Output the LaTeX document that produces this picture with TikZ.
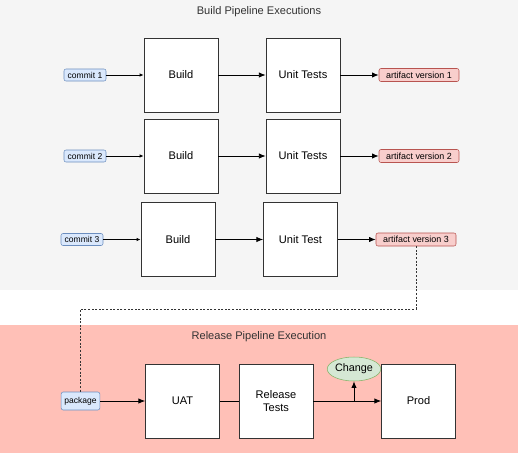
\documentclass[tikz,border=0pt]{standalone}
\usepackage{fontspec}
\setmainfont{Liberation Sans}
\usepackage{tikz}
\usetikzlibrary{calc,shapes.geometric,arrows.meta}
\definecolor{panelgrey}{HTML}{F5F5F5}
\definecolor{panelpink}{HTML}{FFC0B7}
\definecolor{commitfill}{HTML}{DAE8FC}
\definecolor{commitline}{HTML}{6C8EBF}
\definecolor{artfill}{HTML}{F8CECC}
\definecolor{artline}{HTML}{B85450}
\definecolor{chgfill}{HTML}{D5E8D4}
\definecolor{chgline}{HTML}{82B366}
\definecolor{titlegrey}{HTML}{333333}

\begin{document}
\begin{tikzpicture}[x=0.75pt,y=0.75pt,yscale=-1,xscale=1,
    stage/.style={draw=black!80,fill=white,line width=0.6pt,minimum width=55.5pt,minimum height=55.5pt,align=center,font=\fontsize{8.3}{9.5}\selectfont},
    commitbox/.style={draw=commitline,fill=commitfill,rounded corners=1.5pt,minimum width=31.5pt,minimum height=9pt,inner sep=0pt,font=\fontsize{6.4}{7}\selectfont},
    artbox/.style={draw=artline,fill=artfill,rounded corners=1.5pt,minimum width=60pt,minimum height=9.75pt,inner sep=0pt,font=\fontsize{6.7}{7}\selectfont},
    flow/.style={-{Latex[length=5pt,width=4pt]},line width=0.6pt},
    smallflow/.style={-{Latex[length=3pt,width=2.6pt]},line width=0.6pt},
    paneltitle/.style={text=titlegrey,font=\fontsize{8.3}{9.5}\selectfont}]
        \useasboundingbox (0,0) rectangle (518,454);

        %Shape: Rectangle [id:build panel]
        \fill[panelgrey] (0,0) rectangle (518,290);
        %Shape: Rectangle [id:release panel]
        \fill[panelpink] (0,325) rectangle (518,453);

        % Text Node
        \node[paneltitle] (buildtitle) at (259,12) {Build Pipeline Executions};
        % Text Node
        \node[paneltitle] (reltitle) at (259,337) {Release Pipeline Execution};

        % Build rows
        \node[commitbox] (commit1) at (85,75) {commit 1};
        \node[stage] (build1) at (181,75) {Build};
        \node[stage] (unit1) at (303,75) {Unit Tests};
        \node[artbox] (art1) at (419,75) {artifact version 1};

        \node[commitbox] (commit2) at (85,156) {commit 2};
        \node[stage] (build2) at (181,156) {Build};
        \node[stage] (unit2) at (303,156) {Unit Tests};
        \node[artbox] (art2) at (419,156) {artifact version 2};

        \node[commitbox] (commit3) at (82,239.5) {commit 3};
        \node[stage] (build3) at (178,239.5) {Build};
        \node[stage] (unit3) at (300.5,239.5) {Unit Test};
        \node[artbox] (art3) at (416,239.5) {artifact version 3};

        \foreach \r in {1,2,3}{
            \draw[smallflow] (commit\r) -- (build\r);
            \draw[flow] (build\r) -- (unit\r);
            \draw[flow] (unit\r) -- (art\r);
        }

        % Release row
        \node[commitbox,minimum width=29pt,minimum height=13.5pt] (pkg) at (80.5,401) {package};
        \node[stage] (uat) at (182.5,401) {UAT};
        \node[stage] (reltest) at (276,401) {Release\\Tests};
        \node[stage] (prod) at (418.5,401) {Prod};
        \node[ellipse,draw=chgline,fill=chgfill,minimum width=34.5pt,minimum height=18pt,inner sep=0pt,font=\fontsize{8.1}{9}\selectfont] (chg) at (354,369) {Change};

        %Straight Lines
        \coordinate (bend) at (80.5,309);
        \draw[titlegrey,line width=0.6pt,dash pattern=on 1.5pt off 1.2pt] (art3.south) |- (bend) -- (pkg.north);
        \draw[flow] (pkg) -- (uat);
        \draw[line width=0.6pt] (uat) -- (reltest);
        \draw[flow] (reltest) -- (prod);
        \coordinate (fork) at (chg.south |- reltest.east);
        \draw[flow] (fork) -- (chg.south);

\end{tikzpicture}
\end{document}
